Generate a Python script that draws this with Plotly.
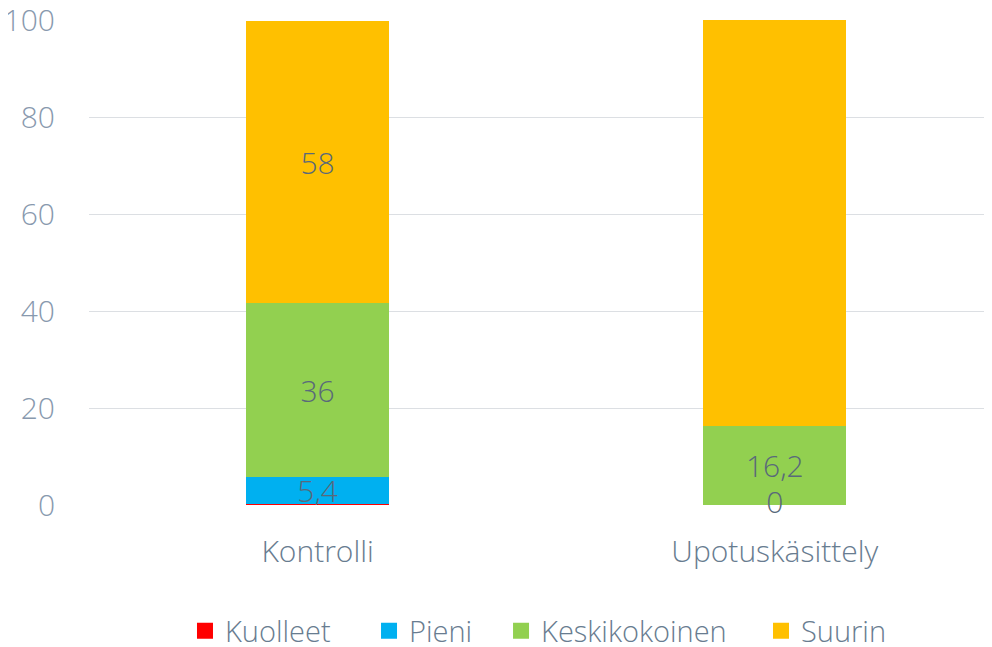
import plotly.graph_objects as go

categories = ["Kontrolli", "Upotuskäsittely"]
series_names = ["Kuolleet", "Pieni", "Keskikokoinen", "Suurin"]
kuolleet = [0.3, 0.0]
pieni = [5.4, 0.0]
keskikokoinen = [36.0, 16.2]
suurin = [58.0, 84.0]
labels_kuolleet = ["", ""]
labels_pieni = ["5,4", ""]
labels_keski = ["36", "16,2"]
labels_suurin = ["58", "84"]
zero_label_cat = [1]
zero_label_text = ["0"]
y_ticks = [0, 20, 40, 60, 80, 100]

colors = ["#FF0000", "#00B0F0", "#92D050", "#FFC000"]
values = [kuolleet, pieni, keskikokoinen, suurin]
labels = [labels_kuolleet, labels_pieni, labels_keski, labels_suurin]
legend_ids = ["legend", "legend2", "legend3", "legend4"]
legend_x = [0.1063, 0.3101, 0.4563, 0.7442]

FONT = "Open Sans"
W = 300
DATA_COLOR = "#59697a"
CAT_COLOR = "#687c90"
TICK_COLOR = "#8899ae"

xs = list(range(len(categories)))
fig = go.Figure()
for name, vals, col, lab in zip(series_names, values, colors, labels):
    fig.add_trace(go.Bar(
        x=xs, y=vals, name=name, marker=dict(color=col, line=dict(width=0)),
        width=0.313, text=lab, textposition="inside", insidetextanchor="middle",
        textangle=0, constraintext="none", showlegend=False,
        insidetextfont=dict(family=FONT, size=30, weight=W, color=DATA_COLOR),
        hoverinfo="skip",
    ))

fig.add_trace(go.Scatter(
    x=zero_label_cat, y=[pieni[i] for i in zero_label_cat], text=zero_label_text,
    mode="text", textposition="middle center", showlegend=False, cliponaxis=False,
    textfont=dict(family=FONT, size=30, weight=W, color=DATA_COLOR), hoverinfo="skip",
))

# legend entries (square keys)
for name, col, lg in zip(series_names, colors, legend_ids):
    fig.add_trace(go.Scatter(
        x=[None], y=[None], mode="markers", name=name, legend=lg, showlegend=True,
        marker=dict(symbol="square", size=17, color=col, line=dict(width=0)),
        hoverinfo="skip",
    ))

legend_common = dict(orientation="h", y=-0.2598, yanchor="middle", xanchor="left",
                     font=dict(family=FONT, size=29, weight=W, color=CAT_COLOR),
                     bgcolor="rgba(0,0,0,0)", itemsizing="trace")
layout_legends = {lg: dict(legend_common, x=lx) for lg, lx in zip(legend_ids, legend_x)}

fig.update_layout(
    barmode="stack",
    width=984, height=639,
    margin=dict(l=81, r=0, t=12, b=142, autoexpand=False),
    paper_bgcolor="white", plot_bgcolor="white",
    uniformtext=dict(minsize=30, mode="show"),
    font=dict(family=FONT, color=CAT_COLOR),
    showlegend=True,
    **layout_legends,
)
fig.update_xaxes(
    tickvals=xs, ticktext=categories, range=[-0.5, 1.475],
    showgrid=False, zeroline=False, showline=False, ticks="", automargin=False,
    tickfont=dict(family=FONT, size=30, weight=W, color=CAT_COLOR),
    ticklabelstandoff=26, ticklabeloverflow="allow",
)
fig.update_yaxes(
    range=[0, 100], tickvals=y_ticks, showgrid=True, gridcolor="#dcdfe3", gridwidth=1,
    zeroline=False, showline=False, ticks="", automargin=False,
    tickfont=dict(family=FONT, size=30, weight=W, color=TICK_COLOR),
    ticklabelstandoff=33, ticklabeloverflow="allow",
)
fig.write_html("out.html")
